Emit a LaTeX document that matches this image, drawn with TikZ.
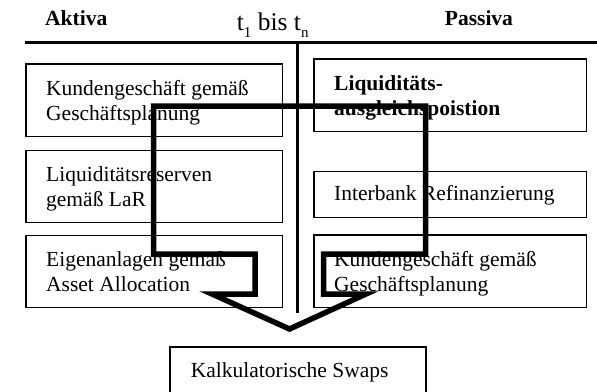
\documentclass[tikz,border=0pt]{standalone}
\usepackage{fontspec}
\setmainfont{Liberation Serif}
\begin{document}
\begin{tikzpicture}[x=1pt,y=-1pt,
  box/.style={draw,line width=1.4pt,inner sep=0pt,anchor=north west},
  txt/.style={anchor=base west,inner sep=0pt,align=left,
    font=\fontsize{21.5}{25}\selectfont},
  head/.style={txt,font=\fontsize{21.5}{25}\selectfont\bfseries},
  rule/.style={line width=3pt},
  flow/.style={line width=5.5pt,line join=miter}]
\useasboundingbox (0,0) rectangle (597,391);
\clip (0,0) rectangle (597,391);
\fill[white] (0,0) rectangle (597,391);

% column headings and the balance-sheet cross
\node[head] (aktiva) at (45,25) {Aktiva};
\node[head] (passiva) at (444.7,25) {Passiva};
\node[anchor=base west,inner sep=0pt,font=\fontsize{25.5}{25}\selectfont] (zeit) at (236.7,30)
  {t\raisebox{-7pt}{\fontsize{15}{15}\selectfont 1} bis t\raisebox{-7pt}{\fontsize{15}{15}\selectfont n}};
\coordinate (hl) at (25.3,42.3);
\coordinate (hr) at (597,42.3);
\coordinate (vb) at (297.7,313.3);
\draw[rule] (hl) -- (hr);
\draw[rule] (297.7,42.3) -- (vb);

% asset side (text nodes are placed by the baseline of their last line)
\node[box,minimum width=256.4pt,minimum height=72.7pt] (a1) at (25.3,63.3) {};
\node[txt] (a1t) at (46,120.7) {Kundengeschäft gemäß\\Geschäftsplanung};
\node[box,minimum width=256.4pt,minimum height=72pt] (a2) at (25.3,150) {};
\node[txt] (a2t) at (46,206) {Liquiditätsreserven\\gemäß LaR};
\node[box,minimum width=256.4pt,minimum height=72.3pt] (a3) at (25.3,234.7) {};
\node[txt] (a3t) at (46,291) {Eigenanlagen gemäß\\Asset Allocation};

% liability side
\node[box,minimum width=272.7pt,minimum height=72.7pt] (p1) at (313.3,58.3) {};
\node[head] (p1t) at (334,115) {Liquiditäts-\\ausgleichspoistion};
\node[box,minimum width=272.7pt,minimum height=46.3pt] (p2) at (313.3,170.7) {};
\node[txt] (p2t) at (334,200) {Interbank Refinanzierung};
\node[box,minimum width=272.7pt,minimum height=72.7pt] (p3) at (313.3,234.3) {};
\node[txt] (p3t) at (334,291) {Kundengeschäft gemäß\\Geschäftsplanung};

% result box
\node[box,minimum width=256pt,minimum height=60pt] (swap) at (169.3,346.3) {};
\node[txt] (swapt) at (190.7,377.7) {Kalkulatorische Swaps};

% flow arrow from both sides down to the swaps
\draw[flow] (153.5,106) -- (425.5,106) -- (425.5,254) -- (323.7,254)
  -- (323.7,294) -- (366,294) -- (289.5,329) -- (212,294) -- (255,294)
  -- (255,254) -- (153.5,254) -- cycle;
\end{tikzpicture}
\end{document}
